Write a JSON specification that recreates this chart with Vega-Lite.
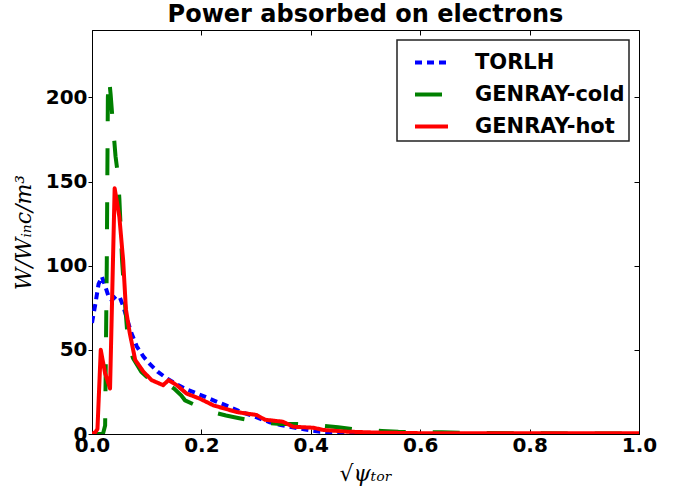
{
  "$schema": "https://vega.github.io/schema/vega-lite/v6.json",
  "width": 547,
  "height": 404,
  "autosize": {"type": "none"},
  "padding": {"left": 92, "top": 30, "right": 38, "bottom": 62},
  "background": "white",
  "title": {"text": "Power absorbed on electrons", "fontSize": 24, "fontWeight": "bold", "font": "DejaVu Sans", "color": "black", "anchor": "middle", "offset": 3},
  "config": {
    "view": {"stroke": "black", "strokeWidth": 1},
    "axis": {"grid": false, "domainColor": "black", "domainWidth": 1, "tickColor": "black", "tickWidth": 1, "labelColor": "black", "labelFont": "DejaVu Sans", "labelFontWeight": "bold", "labelFontSize": 20, "titleFont": "DejaVu Serif", "titleFontStyle": "italic", "titleFontWeight": "normal", "titleFontSize": 22, "titleColor": "black", "labelFlush": false, "labelOverlap": false},
    "legend": {"orient": "top-right", "offset": 10, "symbolType": "stroke", "symbolSize": 1089, "symbolStrokeWidth": 4, "labelFont": "DejaVu Sans", "labelFontWeight": "bold", "labelFontSize": 21, "labelColor": "black", "labelOffset": 25, "rowPadding": 3, "padding": 4, "symbolOffset": 12, "strokeColor": "#222222", "fillColor": "white", "cornerRadius": 0, "strokeWidth": 1.5}
  },
  "data": {"values": [
    {"s": "TORLH", "x": 0, "y": 66},
    {"s": "TORLH", "x": 0.006, "y": 77},
    {"s": "TORLH", "x": 0.012, "y": 89},
    {"s": "TORLH", "x": 0.018, "y": 93.5},
    {"s": "TORLH", "x": 0.024, "y": 88},
    {"s": "TORLH", "x": 0.03, "y": 82},
    {"s": "TORLH", "x": 0.036, "y": 79.5},
    {"s": "TORLH", "x": 0.044, "y": 82},
    {"s": "TORLH", "x": 0.051, "y": 81},
    {"s": "TORLH", "x": 0.057, "y": 76},
    {"s": "TORLH", "x": 0.063, "y": 69.5},
    {"s": "TORLH", "x": 0.072, "y": 60},
    {"s": "TORLH", "x": 0.082, "y": 52},
    {"s": "TORLH", "x": 0.094, "y": 46},
    {"s": "TORLH", "x": 0.106, "y": 41.5},
    {"s": "TORLH", "x": 0.12, "y": 37},
    {"s": "TORLH", "x": 0.137, "y": 33},
    {"s": "TORLH", "x": 0.155, "y": 29.5},
    {"s": "TORLH", "x": 0.173, "y": 26.5},
    {"s": "TORLH", "x": 0.2, "y": 23},
    {"s": "TORLH", "x": 0.222, "y": 20},
    {"s": "TORLH", "x": 0.245, "y": 17},
    {"s": "TORLH", "x": 0.27, "y": 13.5},
    {"s": "TORLH", "x": 0.3, "y": 10},
    {"s": "TORLH", "x": 0.325, "y": 7},
    {"s": "TORLH", "x": 0.345, "y": 5.3},
    {"s": "TORLH", "x": 0.362, "y": 4.3},
    {"s": "TORLH", "x": 0.39, "y": 2.6},
    {"s": "TORLH", "x": 0.417, "y": 1.4},
    {"s": "TORLH", "x": 0.45, "y": 0.6},
    {"s": "TORLH", "x": 0.5, "y": 0.2},
    {"s": "TORLH", "x": 0.6, "y": 0},
    {"s": "TORLH", "x": 0.8, "y": 0},
    {"s": "TORLH", "x": 1.0, "y": 0},
    {"s": "GENRAY-cold", "x": 0, "y": 0},
    {"s": "GENRAY-cold", "x": 0.02, "y": 0},
    {"s": "GENRAY-cold", "x": 0.024, "y": 5},
    {"s": "GENRAY-cold", "x": 0.027, "y": 100},
    {"s": "GENRAY-cold", "x": 0.029, "y": 200},
    {"s": "GENRAY-cold", "x": 0.031, "y": 212},
    {"s": "GENRAY-cold", "x": 0.034, "y": 202},
    {"s": "GENRAY-cold", "x": 0.038, "y": 185},
    {"s": "GENRAY-cold", "x": 0.043, "y": 165},
    {"s": "GENRAY-cold", "x": 0.047, "y": 155},
    {"s": "GENRAY-cold", "x": 0.05, "y": 140},
    {"s": "GENRAY-cold", "x": 0.055, "y": 103},
    {"s": "GENRAY-cold", "x": 0.06, "y": 79},
    {"s": "GENRAY-cold", "x": 0.066, "y": 54},
    {"s": "GENRAY-cold", "x": 0.075, "y": 45},
    {"s": "GENRAY-cold", "x": 0.09, "y": 37},
    {"s": "GENRAY-cold", "x": 0.1, "y": 34},
    {"s": "GENRAY-cold", "x": 0.12, "y": 31},
    {"s": "GENRAY-cold", "x": 0.137, "y": 30},
    {"s": "GENRAY-cold", "x": 0.15, "y": 27},
    {"s": "GENRAY-cold", "x": 0.163, "y": 23},
    {"s": "GENRAY-cold", "x": 0.17, "y": 20},
    {"s": "GENRAY-cold", "x": 0.19, "y": 17},
    {"s": "GENRAY-cold", "x": 0.22, "y": 13},
    {"s": "GENRAY-cold", "x": 0.245, "y": 11},
    {"s": "GENRAY-cold", "x": 0.267, "y": 9.5},
    {"s": "GENRAY-cold", "x": 0.29, "y": 8},
    {"s": "GENRAY-cold", "x": 0.32, "y": 6.5},
    {"s": "GENRAY-cold", "x": 0.345, "y": 6},
    {"s": "GENRAY-cold", "x": 0.37, "y": 6},
    {"s": "GENRAY-cold", "x": 0.4, "y": 5.5},
    {"s": "GENRAY-cold", "x": 0.42, "y": 5},
    {"s": "GENRAY-cold", "x": 0.45, "y": 4},
    {"s": "GENRAY-cold", "x": 0.475, "y": 3},
    {"s": "GENRAY-cold", "x": 0.5, "y": 2.5},
    {"s": "GENRAY-cold", "x": 0.53, "y": 1.8},
    {"s": "GENRAY-cold", "x": 0.56, "y": 1.3},
    {"s": "GENRAY-cold", "x": 0.6, "y": 1},
    {"s": "GENRAY-cold", "x": 0.64, "y": 1},
    {"s": "GENRAY-cold", "x": 0.7, "y": 0.6},
    {"s": "GENRAY-cold", "x": 0.8, "y": 0.4},
    {"s": "GENRAY-cold", "x": 0.9, "y": 0.3},
    {"s": "GENRAY-cold", "x": 1.0, "y": 0.2},
    {"s": "GENRAY-hot", "x": 0, "y": 0},
    {"s": "GENRAY-hot", "x": 0.006, "y": 1},
    {"s": "GENRAY-hot", "x": 0.01, "y": 3},
    {"s": "GENRAY-hot", "x": 0.016, "y": 50},
    {"s": "GENRAY-hot", "x": 0.024, "y": 36},
    {"s": "GENRAY-hot", "x": 0.033, "y": 27},
    {"s": "GENRAY-hot", "x": 0.0414, "y": 146},
    {"s": "GENRAY-hot", "x": 0.05, "y": 129},
    {"s": "GENRAY-hot", "x": 0.057, "y": 103},
    {"s": "GENRAY-hot", "x": 0.062, "y": 74},
    {"s": "GENRAY-hot", "x": 0.069, "y": 60},
    {"s": "GENRAY-hot", "x": 0.079, "y": 44},
    {"s": "GENRAY-hot", "x": 0.094, "y": 37},
    {"s": "GENRAY-hot", "x": 0.109, "y": 32},
    {"s": "GENRAY-hot", "x": 0.13, "y": 29},
    {"s": "GENRAY-hot", "x": 0.14, "y": 32},
    {"s": "GENRAY-hot", "x": 0.155, "y": 29},
    {"s": "GENRAY-hot", "x": 0.173, "y": 24},
    {"s": "GENRAY-hot", "x": 0.197, "y": 21},
    {"s": "GENRAY-hot", "x": 0.222, "y": 17},
    {"s": "GENRAY-hot", "x": 0.265, "y": 13},
    {"s": "GENRAY-hot", "x": 0.301, "y": 11.3},
    {"s": "GENRAY-hot", "x": 0.316, "y": 8.5},
    {"s": "GENRAY-hot", "x": 0.349, "y": 7.3},
    {"s": "GENRAY-hot", "x": 0.368, "y": 4.3},
    {"s": "GENRAY-hot", "x": 0.405, "y": 3.7},
    {"s": "GENRAY-hot", "x": 0.423, "y": 2.4},
    {"s": "GENRAY-hot", "x": 0.466, "y": 1.4},
    {"s": "GENRAY-hot", "x": 0.527, "y": 0.8},
    {"s": "GENRAY-hot", "x": 0.6, "y": 0.5},
    {"s": "GENRAY-hot", "x": 0.8, "y": 0.5},
    {"s": "GENRAY-hot", "x": 1.0, "y": 0.5}
  ]},
  "layer": [
    {
      "encoding": {
        "x": {"field": "x", "type": "quantitative", "scale": {"domain": [0, 1], "nice": false, "zero": false},
              "axis": {"orient": "bottom", "values": [0, 0.2, 0.4, 0.6, 0.8, 1.0], "format": ".1f", "title": "√ψₜₒᵣ", "tickSize": -5, "labelPadding": 6, "titlePadding": 8}},
        "y": {"field": "y", "type": "quantitative", "scale": {"domain": [0, 240], "nice": false},
              "axis": {"orient": "left", "values": [0, 50, 100, 150, 200], "title": "W/Wᵢₙc/m³", "tickSize": 4, "labelPadding": 1, "titlePadding": 10}},
        "color": {"field": "s", "type": "nominal", "title": null,
                  "scale": {"domain": ["TORLH", "GENRAY-cold", "GENRAY-hot"], "range": ["#0000ff", "#008000", "#ff0000"]}},
        "strokeDash": {"field": "s", "type": "nominal", "title": null,
                  "scale": {"domain": ["TORLH", "GENRAY-cold", "GENRAY-hot"], "range": [[7, 5], [27, 27], [1, 0]]}}
      },
      "layer": [
        {"transform": [{"filter": "datum.s === 'TORLH'"}], "mark": {"type": "line", "strokeWidth": 4, "strokeCap": "butt", "clip": true}},
        {"transform": [{"filter": "datum.s === 'GENRAY-cold'"}], "mark": {"type": "line", "strokeWidth": 4, "strokeCap": "butt", "clip": true}},
        {"transform": [{"filter": "datum.s === 'GENRAY-hot'"}], "mark": {"type": "line", "strokeWidth": 4, "strokeCap": "butt", "strokeJoin": "round", "clip": true}}
      ]
    },
    {
      "transform": [{"filter": "datum.s === 'TORLH'"}],
      "mark": {"type": "point", "opacity": 0},
      "encoding": {
        "x": {"field": "x", "type": "quantitative", "axis": {"orient": "top", "values": [0, 0.2, 0.4, 0.6, 0.8, 1.0], "labels": false, "title": null, "tickSize": -5, "domain": false}},
        "y": {"field": "y", "type": "quantitative", "axis": {"orient": "right", "values": [0, 50, 100, 150, 200], "labels": false, "title": null, "tickSize": -5, "domain": false}}
      }
    }
  ],
  "resolve": {"axis": {"x": "independent", "y": "independent"}}
}
